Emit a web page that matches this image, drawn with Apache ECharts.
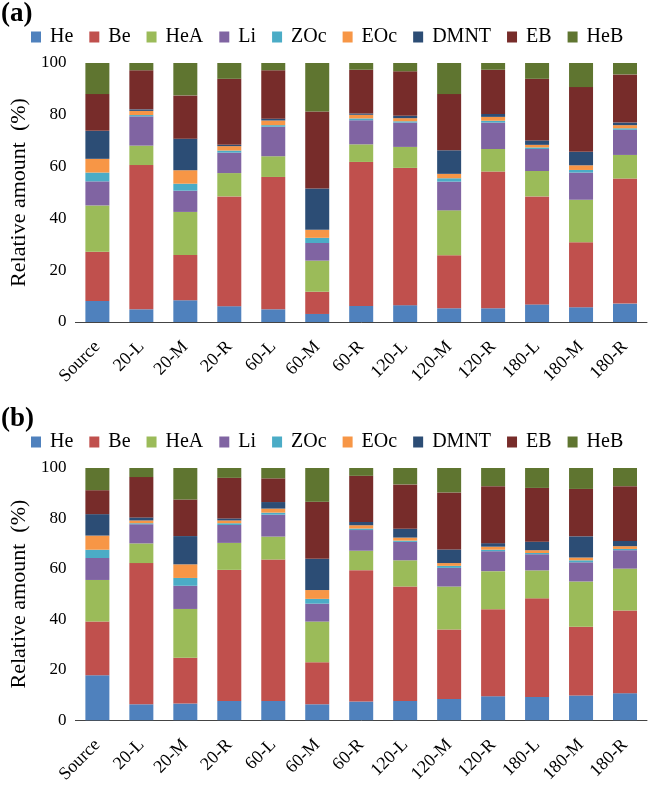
<!DOCTYPE html>
<html>
<head>
<meta charset="utf-8">
<script src="https://cdn.jsdelivr.net/npm/echarts@6/dist/echarts.min.js"></script>
<style>
  html, body { margin: 0; padding: 0; background: #fff; }
  #chart { width: 649px; height: 786px; }
</style>
</head>
<body>
<div id="chart"></div>
<script>
  var categories = ['Source', '20-L', '20-M', '20-R', '60-L', '60-M', '60-R',
    '120-L', '120-M', '120-R', '180-L', '180-M', '180-R']
  var seriesNames = ['He', 'Be', 'HeA', 'Li', 'ZOc', 'EOc', 'DMNT', 'EB', 'HeB']
  var colors = ['#4F81BD', '#C0504D', '#9BBB59', '#8064A2', '#4BACC6', '#F79646', '#2C4D75', '#772C2A', '#5F7530']
  var yTicks = [0, 20, 40, 60, 80, 100]

  // panel (a)
  var aHe   = [8.1, 4.9, 8.4, 6.1, 4.9, 3.1, 6.2, 6.5, 5.3, 5.3, 6.8, 5.7, 7.1]
  var aBe   = [19.0, 55.7, 17.5, 42.4, 51.1, 8.6, 55.6, 53.0, 20.5, 52.8, 41.7, 25.1, 48.3]
  var aHeA  = [17.9, 7.5, 16.6, 9.0, 8.0, 12.0, 6.8, 8.1, 17.3, 8.7, 9.8, 16.4, 9.1]
  var aLi   = [9.3, 11.3, 8.2, 7.9, 11.4, 6.8, 9.3, 9.4, 11.1, 10.2, 8.5, 10.5, 9.7]
  var aZOc  = [3.4, 0.5, 2.7, 0.8, 0.6, 2.0, 0.7, 0.5, 1.3, 0.7, 0.6, 1.0, 0.6]
  var aEOc  = [5.3, 1.6, 5.2, 1.7, 1.8, 3.1, 1.4, 1.2, 1.7, 1.5, 1.0, 1.8, 1.2]
  var aDMNT = [10.8, 0.6, 12.2, 0.5, 0.7, 15.9, 0.5, 0.9, 9.1, 1.1, 1.7, 5.2, 1.0]
  var aEB   = [14.2, 15.1, 16.7, 25.5, 18.7, 29.8, 16.9, 17.2, 21.7, 17.1, 23.8, 25.0, 18.6]
  var aHeB  = [12.0, 2.8, 12.5, 6.1, 2.8, 18.7, 2.6, 3.2, 12.0, 2.6, 6.1, 9.3, 4.4]

  // panel (b)
  var bHe   = [17.8, 6.3, 6.6, 7.6, 7.6, 6.3, 7.4, 7.6, 8.4, 9.5, 9.2, 9.8, 10.7]
  var bBe   = [21.3, 56.0, 18.2, 52.0, 56.1, 16.7, 52.1, 45.4, 27.6, 34.5, 39.1, 27.2, 32.8]
  var bHeA  = [16.5, 7.8, 19.3, 10.7, 9.1, 16.1, 7.7, 10.4, 17.0, 15.1, 11.1, 18.0, 16.6]
  var bLi   = [8.7, 7.6, 9.2, 7.1, 8.7, 7.1, 8.2, 7.3, 7.4, 7.9, 6.4, 7.6, 7.3]
  var bZOc  = [3.3, 0.4, 3.1, 0.7, 0.8, 1.9, 0.6, 0.5, 0.8, 0.6, 0.5, 0.8, 0.5]
  var bEOc  = [5.6, 1.1, 5.4, 1.1, 1.6, 3.5, 1.3, 1.2, 1.1, 1.2, 1.1, 1.1, 1.1]
  var bDMNT = [8.5, 1.2, 11.2, 0.8, 2.6, 12.4, 1.3, 3.5, 5.4, 1.4, 3.4, 8.4, 2.1]
  var bEB   = [9.5, 16.0, 14.5, 16.1, 9.4, 22.6, 18.3, 17.6, 22.6, 22.6, 21.3, 18.8, 21.7]
  var bHeB  = [8.8, 3.6, 12.5, 3.9, 4.1, 13.4, 3.1, 6.5, 9.7, 7.2, 7.9, 8.3, 7.2]

  var panelA = [aHe, aBe, aHeA, aLi, aZOc, aEOc, aDMNT, aEB, aHeB]
  var panelB = [bHe, bBe, bHeA, bLi, bZOc, bEOc, bDMNT, bEB, bHeB]

  var font = "'Liberation Serif', 'Times New Roman', serif"

  function makeXAxis(idx) {
    return {
      type: 'category',
      gridIndex: idx,
      data: categories,
      axisLine: { lineStyle: { color: '#444', width: 1 } },
      axisTick: { show: false },
      axisLabel: { rotate: 45, margin: 22, color: '#000', fontFamily: font, fontSize: 18, interval: 0 }
    }
  }

  function makeYAxis(idx) {
    return {
      type: 'value',
      gridIndex: idx,
      min: yTicks[0],
      max: yTicks[yTicks.length - 1],
      interval: 20,
      name: 'Relative amount  (%)',
      nameLocation: 'middle',
      nameGap: 44,
      nameTextStyle: { color: '#000', fontFamily: font, fontSize: 22 },
      axisLine: { show: false },
      axisTick: { show: false },
      splitLine: { show: false },
      axisLabel: { margin: 9, color: '#000', fontFamily: font, fontSize: 17 }
    }
  }

  var series = []
  ;[panelA, panelB].forEach(function (panel, p) {
    panel.forEach(function (vals, i) {
      series.push({
        name: seriesNames[i],
        type: 'bar',
        stack: 'p' + p,
        xAxisIndex: p,
        yAxisIndex: p,
        barWidth: 24,
        itemStyle: { color: colors[i] },
        data: vals
      })
    })
  })

  function makeLegend(top) {
    return {
      data: seriesNames,
      left: 31,
      top: top,
      padding: 0,
      itemWidth: 10,
      itemHeight: 11,
      itemGap: 16,
      icon: 'rect',
      textStyle: { color: '#000', fontFamily: font, fontSize: 20, padding: [0, 0, 0, 4] }
    }
  }

  var option = {
    animation: false,
    color: colors,
    title: [
      { text: '(a)', left: 1, top: 1, padding: 0, textStyle: { fontFamily: font, fontSize: 27, fontWeight: 'bold', color: '#000' } },
      { text: '(b)', left: 1, top: 406, padding: 0, textStyle: { fontFamily: font, fontSize: 27, fontWeight: 'bold', color: '#000' } }
    ],
    legend: [makeLegend(27), makeLegend(432)],
    grid: [
      { left: 72, top: 63, width: 575, height: 259 },
      { left: 72, top: 468, width: 575, height: 259 }
    ],
    xAxis: [makeXAxis(0), makeXAxis(1)],
    yAxis: [makeYAxis(0), makeYAxis(1)],
    series: series
  }

  var chart = echarts.init(document.getElementById('chart'))
  chart.setOption(option)
</script>
</body>
</html>
